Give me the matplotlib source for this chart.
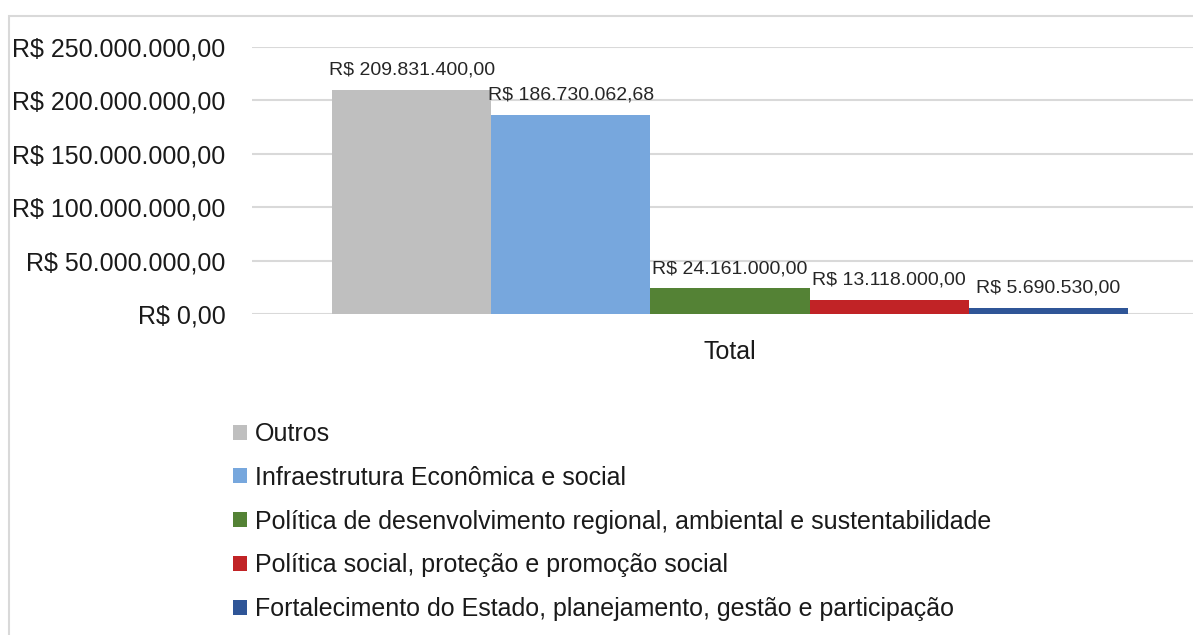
import matplotlib.pyplot as plt
from matplotlib.patches import Patch, Rectangle

plt.rcParams['font.family'] = ['Liberation Sans', 'DejaVu Sans']

# Valores por área (R$)
categoria = 'Total'
areas = ['Outros',
         'Infraestrutura Econômica e social',
         'Política de desenvolvimento regional, ambiental e sustentabilidade',
         'Política social, proteção e promoção social',
         'Fortalecimento do Estado, planejamento, gestão e participação']
valores = [209831400.00, 186730062.68, 24161000.00, 13118000.00, 5690530.00]
cores = ['#BFBFBF', '#77A7DD', '#548235', '#C12326', '#2F5597']
y_ticks = [0, 50000000, 100000000, 150000000, 200000000, 250000000]


def reais(v):
    s = f'{v:,.2f}'.replace(',', '#').replace('.', ',').replace('#', '.')
    return 'R$ ' + s


fig = plt.figure(figsize=(11.93, 6.35), dpi=100)
W, H = 1193, 635

# moldura do gráfico
fig.patches.append(Rectangle((9 / W, -0.1), 1.2, 1 - 16 / H + 0.1,
                             transform=fig.transFigure, fill=False,
                             edgecolor='#D9D9D9', linewidth=1.5))

ax = fig.add_axes([252 / W, (H - 314) / H, 956 / W, (314 - 47) / H])

larg = 0.1665
n = len(valores)
for i, (v, c) in enumerate(zip(valores, cores)):
    x = (i - (n - 1) / 2) * larg
    ax.bar(x, v, width=larg, color=c, zorder=3)
    ax.annotate(reais(v), (x, v), xytext=(0, 8), textcoords='offset points',
                ha='center', va='bottom', fontsize=14, color='#262626')

ax.set_xlim(-0.5, 0.5)
ax.set_ylim(0, 250000000)
ax.set_yticks(y_ticks)
ax.set_yticklabels([reais(t) for t in y_ticks], fontsize=18, color='#1a1a1a')
ax.set_xticks([0])
ax.set_xticklabels([categoria], fontsize=18, color='#1a1a1a')
ax.tick_params(axis='both', length=0)
ax.tick_params(axis='y', pad=19)
ax.tick_params(axis='x', pad=19)
ax.grid(axis='y', color='#D9D9D9', linewidth=1.5, zorder=0)
for s in ax.spines.values():
    s.set_visible(False)

handles = [Patch(facecolor=c, edgecolor='none') for c in cores]
fig.legend(handles, areas, loc='upper left', bbox_to_anchor=(233 / W, 1 - 422 / H),
           frameon=False, fontsize=18, handlelength=0.54, handleheight=0.54,
           handletextpad=0.34, labelspacing=0.79, borderpad=0, borderaxespad=0,
           labelcolor='#1a1a1a')

fig.savefig('out.png', dpi=100)
